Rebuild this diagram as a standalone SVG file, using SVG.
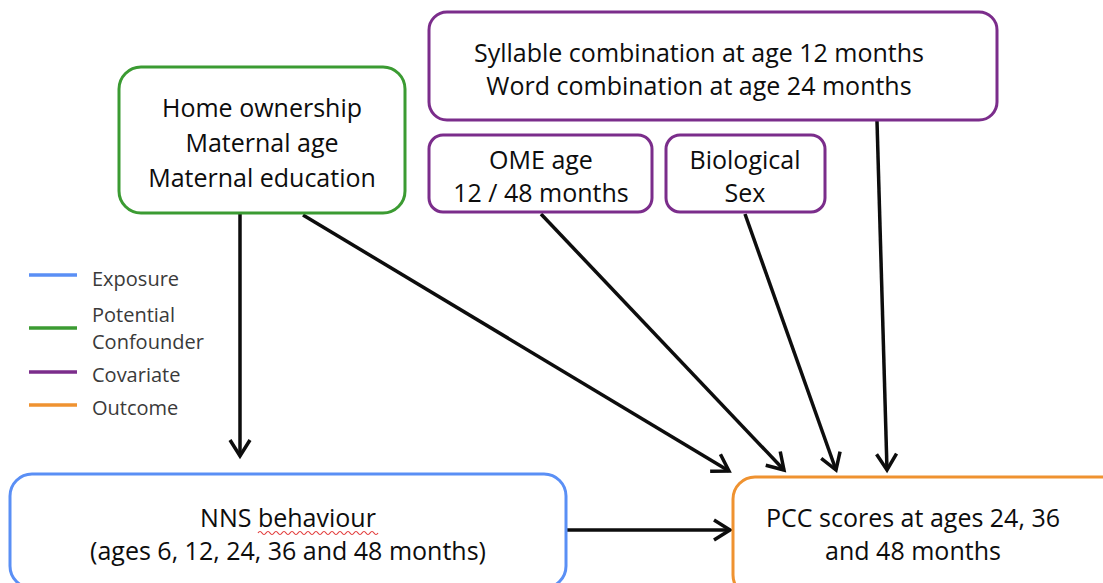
<svg xmlns="http://www.w3.org/2000/svg" width="1103" height="583" viewBox="0 0 1103 583">
  <style>
    .box { fill: #ffffff; stroke-width: 3; }
    .conf { stroke: #3b9b32; }
    .cov { stroke: #7b2d8b; }
    .expo { stroke: #5a8ff5; }
    .out { stroke: #ef9230; }
    .lbl { font-family: "Open Sans", "Liberation Sans", sans-serif; font-size: 25px; fill: #0d0d0d; text-anchor: middle; }
    .leg { font-family: "Open Sans", "Liberation Sans", sans-serif; font-size: 20px; fill: #3a3a3a; }
    .legline { stroke-width: 3.5; }
    .edge { stroke: #0d0d0d; stroke-width: 3.5; fill: none; marker-end: url(#vhead); }
  </style>
  <defs>
    <marker id="vhead" markerUnits="userSpaceOnUse" viewBox="-20 -13 24 26" refX="0" refY="0" markerWidth="24" markerHeight="26" orient="auto">
      <path d="M-16,-10 L0,0 L-16,10" fill="none" stroke="#0d0d0d" stroke-width="3.5" stroke-linejoin="miter"/>
    </marker>
  </defs>
  <rect width="1103" height="583" fill="#ffffff"/>

  <!-- Legend -->
  <g id="legend">
    <line class="legline expo" x1="29" y1="275" x2="77" y2="275"/>
    <text class="leg" x="92" y="286">Exposure</text>
    <line class="legline conf" x1="29" y1="328" x2="77" y2="328"/>
    <text class="leg" x="92" y="322">Potential</text>
    <text class="leg" x="92" y="349">Confounder</text>
    <line class="legline cov" x1="29" y1="372" x2="77" y2="372"/>
    <text class="leg" x="92" y="382">Covariate</text>
    <line class="legline out" x1="29" y1="405" x2="77" y2="405"/>
    <text class="leg" x="92" y="415">Outcome</text>
  </g>

  <!-- Connectors -->
  <g id="connectors">
    <line class="edge" x1="240" y1="214" x2="240" y2="456"/>
    <line class="edge" x1="303" y1="215" x2="729" y2="471"/>
    <line class="edge" x1="541" y1="214" x2="784" y2="470"/>
    <line class="edge" x1="745" y1="214" x2="836" y2="470"/>
    <line class="edge" x1="877" y1="121" x2="887" y2="470"/>
    <line class="edge" x1="566" y1="530" x2="730" y2="530"/>
  </g>

  <!-- Confounders -->
  <g id="confounders">
    <rect class="box conf" x="119" y="67" width="286" height="146" rx="22"/>
    <text class="lbl" x="262" y="117">Home ownership</text>
    <text class="lbl" x="262" y="152">Maternal age</text>
    <text class="lbl" x="262" y="187">Maternal education</text>
  </g>

  <!-- Covariates -->
  <g id="combination">
    <rect class="box cov" x="429" y="12" width="568" height="108" rx="18"/>
    <text class="lbl" x="699" y="62">Syllable combination at age 12 months</text>
    <text class="lbl" x="699" y="95">Word combination at age 24 months</text>
  </g>
  <g id="ome">
    <rect class="box cov" x="429" y="135" width="223" height="77" rx="14"/>
    <text class="lbl" x="541" y="169">OME age</text>
    <text class="lbl" x="541" y="202">12 / 48 months</text>
  </g>
  <g id="sex">
    <rect class="box cov" x="666" y="135" width="159" height="77" rx="14"/>
    <text class="lbl" x="745" y="169">Biological</text>
    <text class="lbl" x="745" y="202">Sex</text>
  </g>

  <!-- Exposure -->
  <g id="nns">
    <rect class="box expo" x="10" y="474" width="556" height="114" rx="22"/>
    <text class="lbl" x="288" y="527">NNS behaviour</text>
    <!-- spell-check squiggle under "behaviour" -->
    <path d="M258,533 q2,-3 4,0 t4,0 t4,0 t4,0 t4,0 t4,0 t4,0 t4,0 t4,0 t4,0 t4,0 t4,0 t4,0 t4,0 t4,0 t4,0 t4,0 t4,0 t4,0 t4,0 t4,0 t4,0 t4,0 t4,0 t4,0 t4,0 t4,0 t4,0 t4,0 t4,0" fill="none" stroke="#e23b3b" stroke-width="1.2"/>
    <text class="lbl" x="288" y="560">(ages 6, 12, 24, 36 and 48 months)</text>
  </g>

  <!-- Outcome -->
  <g id="pcc">
    <rect class="box out" x="733" y="477" width="400" height="120" rx="22"/>
    <text class="lbl" x="913" y="527">PCC scores at ages 24, 36</text>
    <text class="lbl" x="913" y="560">and 48 months</text>
  </g>
</svg>
